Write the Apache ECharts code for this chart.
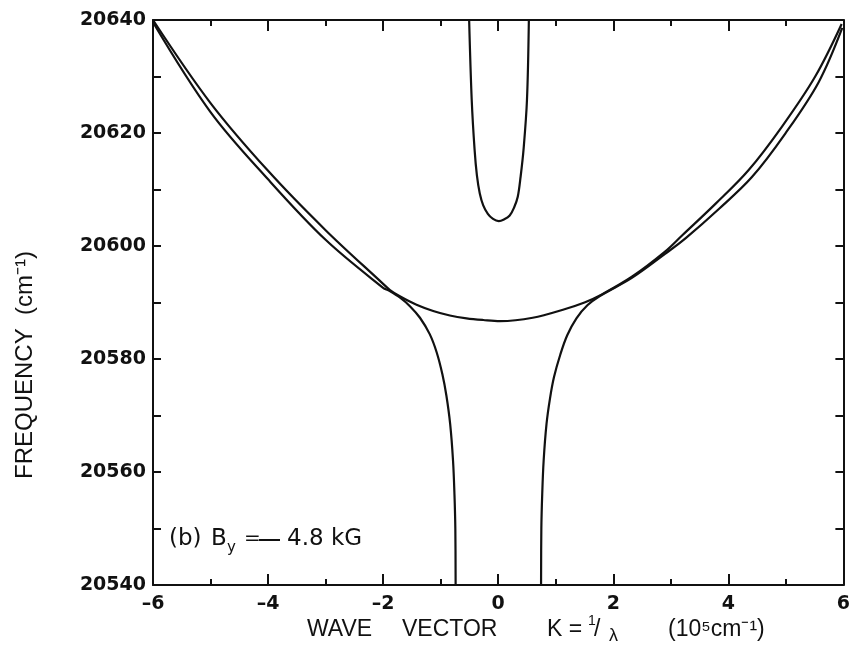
<!DOCTYPE html>
<html>
<head>
<meta charset="utf-8">
<script src="https://cdn.jsdelivr.net/npm/echarts@6/dist/echarts.min.js"></script>
<style>
  html, body { margin: 0; padding: 0; background: #fff; }
  #chart { width: 853px; height: 660px; }
</style>
</head>
<body>
<div id="chart"></div>
<script>
// Dispersion branches, K in 10^5 cm^-1, frequency in cm^-1
const upperK = [-6, -5, -4, -3, -2, -1.88, -1.71, -1.42, -1.13, -0.84, -0.55, -0.26, 0.03, 0.6, 1.18, 1.5, 1.76, 2.33, 2.9, 3.2, 3.78, 4.35, 4.93, 5.51, 5.97];
const upperF = [20640, 20625.3, 20613.3, 20602.8, 20593.3, 20592.2, 20591.1, 20589.6, 20588.5, 20587.7, 20587.2, 20586.9, 20586.7, 20587.3, 20588.9, 20590.0, 20591.2, 20594.6, 20599.0, 20601.9, 20607.5, 20613.4, 20621.1, 20630.0, 20639.3];

const lowerLeftK = [-6, -5, -4, -3, -2, -1.9, -1.7, -1.53, -1.36, -1.19, -1.07, -0.97, -0.9, -0.835, -0.785, -0.76, -0.745, -0.74];
const lowerLeftF = [20639.6, 20623.7, 20611.8, 20601.1, 20592.6, 20592.1, 20590.8, 20589.3, 20587.3, 20584.4, 20581.2, 20577.3, 20573.5, 20568.5, 20562, 20556, 20550, 20540];

const lowerRightK = [0.745, 0.75, 0.765, 0.79, 0.84, 0.9, 0.97, 1.08, 1.2, 1.36, 1.55, 1.76, 2.33, 2.9, 3.26, 3.84, 4.41, 4.99, 5.57, 5.98];
const lowerRightF = [20540, 20550, 20556, 20562, 20568.5, 20573, 20576.8, 20580.8, 20584.2, 20587.2, 20589.5, 20591.1, 20594.4, 20598.6, 20601.4, 20606.6, 20612.2, 20619.9, 20629, 20638.6];

const innerK = [-0.505, -0.46, -0.41, -0.37, -0.32, -0.26, -0.18, -0.09, 0.01, 0.1, 0.2, 0.28, 0.34, 0.39, 0.44, 0.5, 0.533];
const innerF = [20640, 20625.8, 20617, 20612.5, 20609.3, 20607.2, 20605.7, 20604.8, 20604.4, 20604.7, 20605.4, 20606.9, 20608.7, 20612.3, 20617, 20625.8, 20640];

const xTicks = { min: -6, max: 6, step: 2 };
const yTicks = { min: 20540, max: 20640, step: 20 };

const pairs = (ks, fs) => ks.map((k, i) => [k, fs[i]]);

const INK = '#111';
const tickFont = { fontFamily: 'DejaVu Sans', fontWeight: 'bold', color: INK };
const titleFont = 'Liberation Sans';

function xAxisDef(isBottom) {
  return {
    type: 'value', position: isBottom ? 'bottom' : 'top',
    min: xTicks.min, max: xTicks.max, interval: xTicks.step,
    axisLine: { show: true, onZero: false, lineStyle: { color: INK, width: 2 } },
    axisTick: { show: true, inside: true, length: 11, lineStyle: { color: INK, width: 2 } },
    minorTick: { show: true, splitNumber: 2, length: 6, lineStyle: { color: INK, width: 2 } },
    splitLine: { show: false },
    axisLabel: isBottom ? Object.assign({
      show: true, fontSize: 19, margin: 10,
      formatter: v => (v < 0 ? '\u2013' + Math.abs(v) : String(v))
    }, tickFont) : { show: false }
  };
}

function yAxisDef(isLeft) {
  return {
    type: 'value', position: isLeft ? 'left' : 'right',
    min: yTicks.min, max: yTicks.max, interval: yTicks.step,
    axisLine: { show: true, onZero: false, lineStyle: { color: INK, width: 2 } },
    axisTick: { show: true, inside: true, length: 8, lineStyle: { color: INK, width: 2 } },
    minorTick: { show: true, splitNumber: 2, length: 8, lineStyle: { color: INK, width: 2 } },
    splitLine: { show: false },
    axisLabel: isLeft ? Object.assign({
      show: true, fontSize: 19, margin: 7, formatter: v => String(v)
    }, tickFont) : { show: false }
  };
}

function curve(name, data) {
  return {
    name, type: 'line', data, showSymbol: false, symbol: 'none',
    smooth: 0.35,
    lineStyle: { color: INK, width: 2.2 },
    xAxisIndex: 0, yAxisIndex: 0, silent: true, animation: false
  };
}

function txt(x, y, text, size, extra) {
  return {
    type: 'text', x, y, silent: true,
    style: Object.assign({
      text, fontFamily: titleFont, fontSize: size, fill: INK,
      verticalAlign: 'middle', align: 'left'
    }, extra || {})
  };
}

const ann = { fontFamily: 'DejaVu Sans' };

const chart = echarts.init(document.getElementById('chart'), null, { renderer: 'canvas' });
chart.setOption({
  animation: false,
  backgroundColor: '#fff',
  grid: { left: 153, right: 7, top: 20, bottom: 75, containLabel: false },
  xAxis: [xAxisDef(true), xAxisDef(false)],
  yAxis: [yAxisDef(true), yAxisDef(false)],
  series: [
    curve('upper', pairs(upperK, upperF)),
    curve('lowerLeft', pairs(lowerLeftK, lowerLeftF)),
    curve('lowerRight', pairs(lowerRightK, lowerRightF)),
    curve('inner', pairs(innerK, innerF))
  ],
  graphic: [
    // y-axis title
    {
      type: 'text', x: 25, y: 365, rotation: Math.PI / 2, silent: true,
      style: { text: 'FREQUENCY  (cm\u207B\u00B9)', fontFamily: titleFont, fontSize: 24,
               fill: INK, align: 'center', verticalAlign: 'middle' }
    },
    // x-axis title
    txt(307, 630, 'WAVE', 23),
    txt(402, 630, 'VECTOR', 23),
    txt(547, 630, 'K =', 23),
    txt(588, 621, '1', 14),
    txt(594, 630, '/', 23),
    txt(609, 636, '\u03BB', 18),
    txt(668, 630, '(10\u2075cm\u207B\u00B9)', 23),
    // field annotation
    txt(169, 539, '(b)', 23, ann),
    txt(211, 539, 'B', 23, ann),
    txt(227, 548, 'y', 15, ann),
    txt(244, 539, '=', 20, ann),
    txt(259, 539, '\u2014', 21, { fontWeight: 'bold' }),
    txt(287, 539, '4.8 kG', 23, ann)
  ]
});
</script>
</body>
</html>
